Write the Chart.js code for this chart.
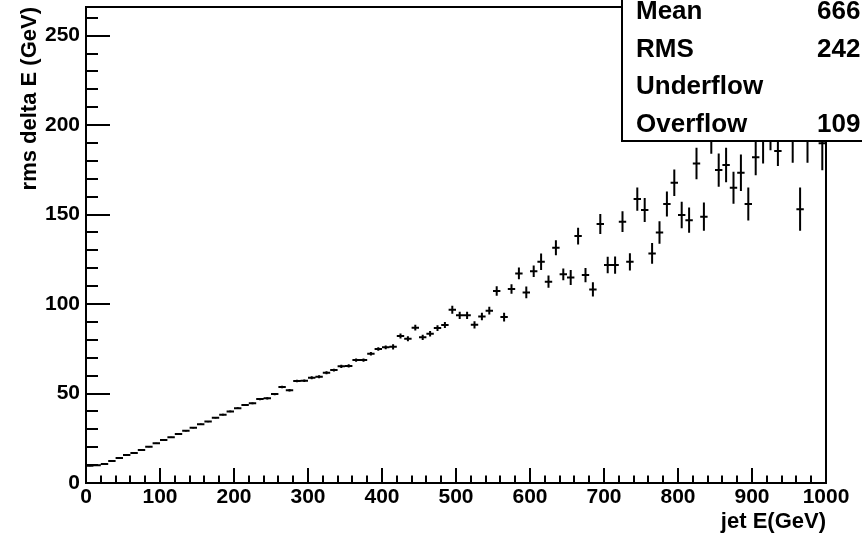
<!DOCTYPE html>
<html>
<head>
<meta charset="utf-8">
<title>rms delta E vs jet E</title>
<script src="https://cdn.jsdelivr.net/npm/chart.js@4.4.0/dist/chart.umd.min.js"></script>
<style>
  html, body { margin: 0; padding: 0; background: #fff; }
  #wrap { width: 862px; height: 533px; }
</style>
</head>
<body>
<div id="wrap"><canvas id="c" width="862" height="533"></canvas></div>
<script>
// histogram range, 10 GeV bins
var histRange = [0, 1000];

// rms of delta E per bin (GeV)
var rmsValues = [
  9.7, 9.9, 10.6, 12.3, 14.0, 15.6, 16.8, 18.4, 20.3, 22.2,
  24.0, 25.5, 27.4, 29.2, 30.9, 32.8, 34.3, 36.5, 38.2, 40.0,
  41.8, 43.6, 44.5, 46.9, 47.3, 49.7, 53.6, 51.8, 57.0, 57.2,
  58.8, 59.4, 61.6, 63.1, 65.2, 65.4, 68.7, 68.7, 72.2, 74.9,
  75.8, 76.1, 82.2, 80.6, 86.8, 81.4, 83.4, 86.6, 88.3, 96.8,
  93.7, 93.7, 88.4, 93.1, 96.3, 107.3, 92.7, 108.4, 117.1, 106.5,
  118.3, 123.6, 112.5, 131.5, 116.6, 114.8, 138.0, 116.2, 108.2, 144.7,
  121.8, 121.8, 146.0, 123.6, 158.7, 152.5, 128.3, 140.0, 155.9, 167.8,
  149.7, 146.9, 178.6, 148.8, 196.0, 174.9, 177.7, 165.0, 173.4, 155.9,
  182.0, 194.0, 197.0, 185.5, 210.0, 194.0, 153.0, 195.0, 212.0, 189.8
];

// bin errors
var rmsErrors = [
  0.3, 0.3, 0.3, 0.3, 0.3, 0.3, 0.3, 0.3, 0.3, 0.3,
  0.4, 0.4, 0.4, 0.4, 0.4, 0.4, 0.4, 0.4, 0.5, 0.5,
  0.5, 0.5, 0.5, 0.6, 0.6, 0.6, 0.7, 0.7, 0.7, 0.7,
  0.8, 0.8, 0.8, 0.8, 0.9, 0.9, 0.9, 0.9, 1.0, 1.0,
  1.1, 1.5, 1.4, 1.4, 1.6, 1.5, 1.5, 1.6, 1.7, 2.2,
  2.0, 2.0, 2.0, 2.1, 2.2, 2.6, 2.4, 2.7, 3.3, 3.3,
  3.2, 4.6, 3.4, 4.2, 3.3, 4.2, 4.7, 4.0, 4.0, 5.6,
  4.6, 4.8, 5.8, 4.8, 6.5, 6.7, 5.8, 6.3, 7.0, 7.4,
  7.4, 7.0, 8.8, 7.9, 12.0, 9.3, 9.6, 9.0, 10.2, 9.2,
  10.0, 15.5, 11.0, 8.4, 12.0, 15.0, 12.1, 16.0, 14.0, 15.0
];

var xTicks = [0, 100, 200, 300, 400, 500, 600, 700, 800, 900, 1000];
var yTicks = [0, 50, 100, 150, 200, 250];
var yMax = 266;

var statNames = ['Mean', 'RMS', 'Underflow', 'Overflow'];
var statValues = ['666', '242', '', '109'];

var FONT = '"Liberation Sans", Arial, Helvetica, sans-serif';

// horizontal bin-width segments and vertical error bars, separated by gaps
var binWidth = (histRange[1] - histRange[0]) / rmsValues.length;
var binSegs = [], errSegs = [];
rmsValues.forEach(function(v, i) {
  var lo = histRange[0] + i * binWidth, hi = lo + binWidth, c = lo + binWidth / 2;
  binSegs.push({x: lo, y: v}, {x: hi, y: v}, {x: hi, y: null});
  errSegs.push({x: c, y: v - rmsErrors[i]}, {x: c, y: v + rmsErrors[i]}, {x: c, y: null});
});

// ROOT style frame: inward ticks, stats box in the corner
var rootFrame = {
  id: 'rootFrame',
  afterDatasetsDraw: function(chart) {
    var ctx = chart.ctx, a = chart.chartArea;
    var xs = chart.scales.x, ys = chart.scales.y;
    ctx.save();
    ctx.strokeStyle = '#000';
    ctx.lineWidth = 2;
    ctx.strokeRect(a.left, a.top, a.right - a.left, a.bottom - a.top);

    ctx.beginPath();
    for (var v = histRange[0]; v <= histRange[1]; v += 20) {
      var px = Math.round(xs.getPixelForValue(v));
      var len = v % 100 === 0 ? 15 : 7.5;
      ctx.moveTo(px, a.bottom);
      ctx.lineTo(px, a.bottom - len);
    }
    for (var w = 0; w <= yMax; w += 10) {
      var py = Math.round(ys.getPixelForValue(w));
      var l = w % 50 === 0 ? 24 : 12;
      ctx.moveTo(a.left, py);
      ctx.lineTo(a.left + l, py);
    }
    ctx.stroke();

    // statistics box
    var bx = 622, by = -2, bw = 260, bh = 143;
    ctx.fillStyle = '#fff';
    ctx.fillRect(bx, by, bw, bh);
    ctx.lineWidth = 2;
    ctx.strokeRect(bx, by, bw, bh);
    ctx.fillStyle = '#000';
    ctx.font = 'bold 26px ' + FONT;
    ctx.textBaseline = 'middle';
    ctx.textAlign = 'left';
    statNames.forEach(function(n, i) {
      var ty = 12 + i * 37.5;
      ctx.fillText(n, 636, ty);
      ctx.fillText(statValues[i], 817, ty);
    });
    ctx.restore();
  }
};

var tickFont = {family: FONT, size: 21, weight: 'bold'};
var plainLabel = function(v) { return String(v); };

new Chart(document.getElementById('c').getContext('2d'), {
  type: 'scatter',
  data: {
    datasets: [
      {label: 'bins', data: binSegs, showLine: true, spanGaps: false,
       borderColor: '#000', borderWidth: 2, pointRadius: 0},
      {label: 'errors', data: errSegs, showLine: true, spanGaps: false,
       borderColor: '#000', borderWidth: 2, pointRadius: 0}
    ]
  },
  options: {
    responsive: false,
    animation: false,
    devicePixelRatio: 1,
    layout: {padding: {top: 7, right: 36, left: 0, bottom: 0}},
    plugins: {legend: {display: false}, tooltip: {enabled: false}},
    scales: {
      x: {
        type: 'linear', min: histRange[0], max: histRange[1],
        afterFit: function(s) { s.height = 50; s.paddingLeft = 0; s.paddingRight = 0; },
        afterBuildTicks: function(s) { s.ticks = xTicks.map(function(v) { return {value: v}; }); },
        ticks: {font: tickFont, color: '#000', padding: 2, maxRotation: 0, autoSkip: false, callback: plainLabel},
        grid: {display: false, drawTicks: false},
        border: {display: false},
        title: {display: true, text: 'jet E(GeV)', align: 'end', color: '#000', padding: 0,
                font: {family: FONT, size: 22, weight: 'bold', lineHeight: 1}}
      },
      y: {
        type: 'linear', min: 0, max: yMax,
        afterFit: function(s) { s.width = 86; s.paddingTop = 0; s.paddingBottom = 0; },
        afterBuildTicks: function(s) { s.ticks = yTicks.map(function(v) { return {value: v}; }); },
        ticks: {font: tickFont, color: '#000', padding: 6, autoSkip: false, callback: plainLabel},
        grid: {display: false, drawTicks: false},
        border: {display: false},
        title: {display: true, text: 'rms delta E (GeV)', align: 'end', color: '#000',
                padding: {top: 19, bottom: 0},
                font: {family: FONT, size: 22, weight: 'bold', lineHeight: 1}}
      }
    }
  },
  plugins: [rootFrame]
});
</script>
</body>
</html>
